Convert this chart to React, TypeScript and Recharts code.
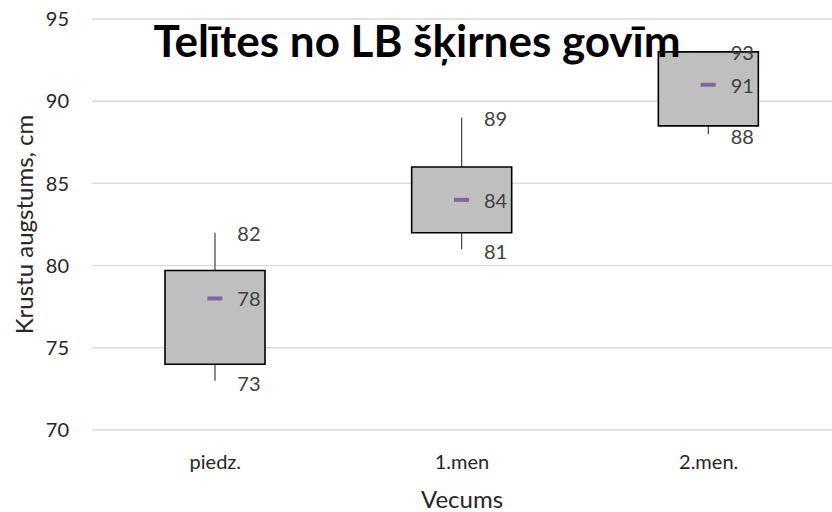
import React from "react";
import {
  ComposedChart,
  Bar,
  Scatter,
  XAxis,
  YAxis,
  CartesianGrid,
} from "recharts";

const ages = ["piedz.", "1.men", "2.men."];
const minVals = [73, 81, 88];
const q1Vals = [74, 82, 88.5];
const meanVals = [78, 84, 91];
const q3Vals = [79.7, 86, 93];
const maxVals = [82, 89, 93];
const yTicks = [70, 75, 80, 85, 90, 95];

const data = ages.map((name, i) => ({
  name,
  min: minVals[i],
  mean: meanVals[i],
  max: maxVals[i],
  whisker: [minVals[i], maxVals[i]],
  box: [q1Vals[i], q3Vals[i]],
}));

const FONT = "Lato, 'Open Sans', sans-serif";
const LABEL_COLOR = "#404040";
const TEXT_SIZE = 20;
const TITLE_SIZE = 24;

const WhiskerShape = (props: any) => {
  const { x, y, width, height } = props;
  const cx = x + width / 2;
  return <line x1={cx} x2={cx} y1={y} y2={y + height} stroke="#404040" strokeWidth={1.2} />;
};

const valueText = (cx: number, cy: number, v: number) => (
  <text
    x={cx + 22}
    y={cy}
    dominantBaseline="central"
    fontFamily={FONT}
    fontSize={TEXT_SIZE}
    fill={LABEL_COLOR}
  >
    {v}
  </text>
);

const MeanShape = (props: any) => {
  const { cx, cy, payload } = props;
  return (
    <g>
      <rect x={cx - 8} y={cy - 2} width={15} height={4} fill="#8064A2" />
      {valueText(cx, cy, payload.mean)}
    </g>
  );
};

const MaxShape = (props: any) => valueText(props.cx, props.cy, props.payload.max);
const MinShape = (props: any) => valueText(props.cx, props.cy + 2, props.payload.min);

export default function App() {
  return (
    <div style={{ position: "absolute", left: 0, top: 0, width: 832, height: 512, background: "#fff" }}>
      <ComposedChart
        width={832}
        height={512}
        data={data}
        margin={{ top: 19, right: 0, bottom: 52, left: 0 }}
      >
        <CartesianGrid vertical={false} stroke="#D9D9D9" strokeWidth={1.4} />
        <XAxis
          dataKey="name"
          axisLine={false}
          tickLine={false}
          tickSize={0}
          tickMargin={25}
          tick={{ fontFamily: FONT, fontSize: TEXT_SIZE, fill: "#262626" }}
          label={(p: any) => {
            const vb = p.viewBox;
            return (
              <text
                x={vb.x + vb.width / 2}
                y={vb.y + 68}
                textAnchor="middle"
                dominantBaseline="central"
                fontFamily={FONT}
                fontSize={TITLE_SIZE}
                fill="#262626"
              >
                Vecums
              </text>
            );
          }}
        />
        <XAxis xAxisId="box" dataKey="name" hide />
        <YAxis
          width={92}
          domain={[70, 95]}
          ticks={yTicks}
          axisLine={false}
          tickLine={false}
          tickSize={0}
          tickMargin={23}
          tick={{ fontFamily: FONT, fontSize: TEXT_SIZE, fill: "#262626" }}
          label={(p: any) => {
            const vb = p.viewBox;
            const cy = vb.y + vb.height / 2;
            return (
              <text
                x={23}
                y={cy}
                transform={`rotate(-90, 23, ${cy})`}
                textAnchor="middle"
                dominantBaseline="central"
                fontFamily={FONT}
                fontSize={TITLE_SIZE}
                fill="#262626"
              >
                Krustu augstums, cm
              </text>
            );
          }}
        />
        <Bar dataKey="whisker" barSize={100} shape={WhiskerShape} isAnimationActive={false} />
        <Bar
          dataKey="box"
          xAxisId="box"
          barSize={100}
          fill="#BFBFBF"
          stroke="#000"
          strokeWidth={1.6}
          isAnimationActive={false}
        />
        <Scatter dataKey="mean" shape={MeanShape} isAnimationActive={false} />
        <Scatter dataKey="max" shape={MaxShape} isAnimationActive={false} />
        <Scatter dataKey="min" shape={MinShape} isAnimationActive={false} />
      </ComposedChart>
      <div
        style={{
          position: "absolute",
          left: 0,
          top: 12,
          width: 834,
          textAlign: "center",
          fontFamily: FONT,
          fontWeight: 700,
          fontSize: 44,
          color: "#000",
          lineHeight: "56px",
        }}
      >
        Telītes no LB šķirnes govīm
      </div>
    </div>
  );
}
